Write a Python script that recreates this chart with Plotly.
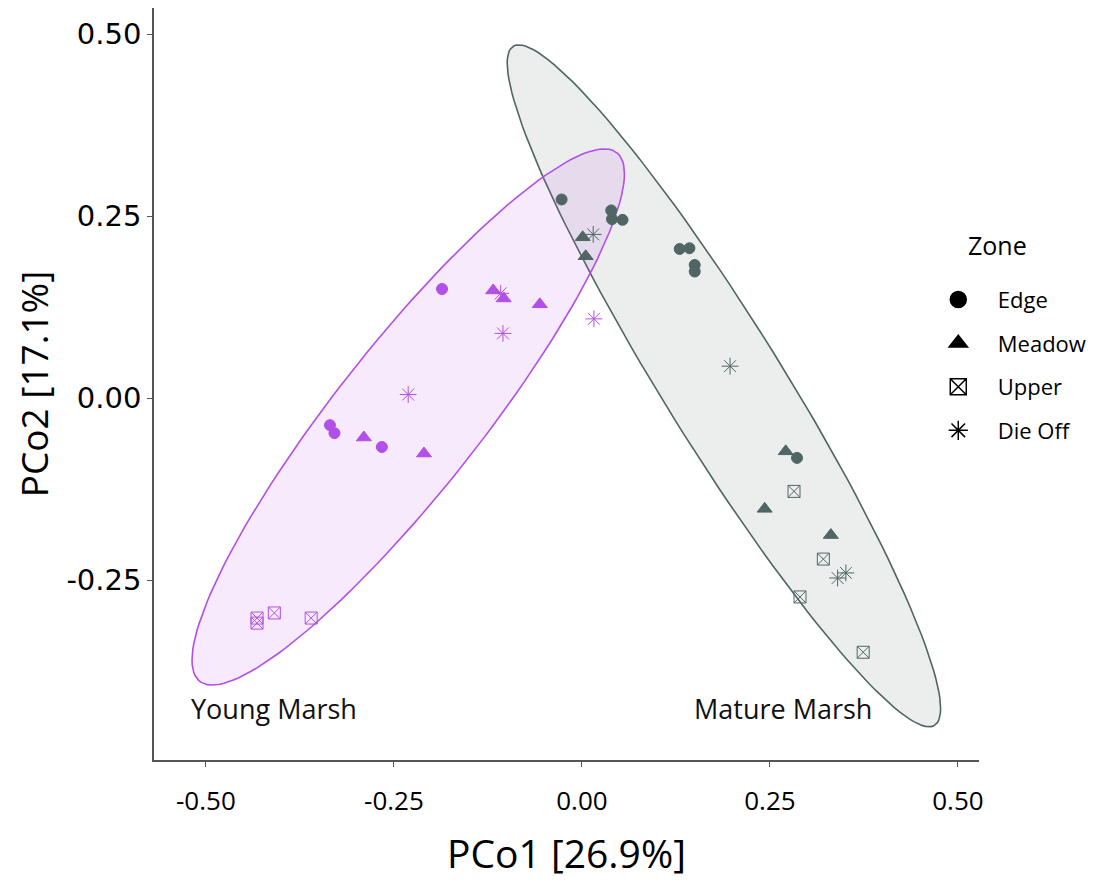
import numpy as np
import plotly.graph_objects as go

# ---------------- data ----------------
zones = ["Edge", "Meadow", "Upper", "Die Off"]

young_edge_x = [-0.186, -0.335, -0.329, -0.266]
young_edge_y = [0.150, -0.037, -0.048, -0.067]
young_meadow_x = [-0.118, -0.104, -0.056, -0.290, -0.210]
young_meadow_y = [0.148, 0.137, 0.129, -0.054, -0.076]
young_upper_x = [-0.432, -0.432, -0.409, -0.360]
young_upper_y = [-0.302, -0.309, -0.295, -0.302]
young_dieoff_x = [-0.108, -0.105, -0.231, 0.016]
young_dieoff_y = [0.144, 0.089, 0.005, 0.109]

mature_edge_x = [-0.027, 0.039, 0.040, 0.054, 0.130, 0.143, 0.150, 0.150, 0.286]
mature_edge_y = [0.273, 0.258, 0.246, 0.245, 0.205, 0.206, 0.183, 0.174, -0.082]
mature_meadow_x = [0.001, 0.005, 0.271, 0.243, 0.331]
mature_meadow_y = [0.221, 0.195, -0.073, -0.152, -0.188]
mature_upper_x = [0.282, 0.321, 0.290, 0.374]
mature_upper_y = [-0.128, -0.221, -0.273, -0.349]
mature_dieoff_x = [0.015, 0.197, 0.340, 0.351]
mature_dieoff_y = [0.225, 0.044, -0.247, -0.240]

x_ticks = [-0.50, -0.25, 0.00, 0.25, 0.50]
y_ticks = [-0.25, 0.00, 0.25, 0.50]

# ---------------- styles ----------------
YOUNG = "#B24FE6"
MATURE = "#506664"
symbols = {"Edge": "circle", "Meadow": "triangle-up", "Upper": "square-x-open", "Die Off": "asterisk-open"}
sizes = {"Edge": 11, "Meadow": 13, "Upper": 12, "Die Off": 14}
NARROW = "Liberation Sans Narrow, Open Sans, sans-serif"
ELLIPSE_LEVEL = 0.90


def cov_trob(pts, nu=5, tol=1e-5, maxit=200):
    x = np.asarray(pts, float)
    n, p = x.shape
    w = np.ones(n)
    loc = x.mean(axis=0)
    for _ in range(maxit):
        w0 = w.copy()
        X = x - loc
        S = (w[:, None] * X).T @ X / w.sum()
        Q = np.einsum("ij,jk,ik->i", X, np.linalg.inv(S), X)
        w = (nu + p) / (nu + Q)
        loc = (w[:, None] * x).sum(axis=0) / w.sum()
        if np.all(np.abs(w - w0) < tol):
            break
    X = x - loc
    cov = (w[:, None] * X).T @ X / n
    return loc, cov


def ellipse(xs, ys, level=ELLIPSE_LEVEL, seg=150):
    pts = np.column_stack([xs, ys])
    n = len(pts)
    center, shape = cov_trob(pts)
    dfn, dfd = 2, n - 1
    fq = dfd / 2.0 * ((1 - level) ** (-2.0 / dfd) - 1)
    radius = np.sqrt(dfn * fq)
    ang = np.linspace(0, 2 * np.pi, seg + 1)
    unit = np.column_stack([np.cos(ang), np.sin(ang)])
    R = np.linalg.cholesky(shape).T
    e = center + radius * unit @ R
    return e[:, 0], e[:, 1]


groups = {
    "young": {
        "Edge": (young_edge_x, young_edge_y),
        "Meadow": (young_meadow_x, young_meadow_y),
        "Upper": (young_upper_x, young_upper_y),
        "Die Off": (young_dieoff_x, young_dieoff_y),
    },
    "mature": {
        "Edge": (mature_edge_x, mature_edge_y),
        "Meadow": (mature_meadow_x, mature_meadow_y),
        "Upper": (mature_upper_x, mature_upper_y),
        "Die Off": (mature_dieoff_x, mature_dieoff_y),
    },
}
colors = {"young": YOUNG, "mature": MATURE}
fills = {"young": "rgba(178,79,230,0.12)", "mature": "rgba(80,102,100,0.11)"}

fig = go.Figure()

for g in ["mature", "young"]:
    allx = sum([list(v[0]) for v in groups[g].values()], [])
    ally = sum([list(v[1]) for v in groups[g].values()], [])
    ex, ey = ellipse(allx, ally)
    fig.add_trace(go.Scatter(x=ex, y=ey, mode="lines", fill="toself",
                             fillcolor=fills[g], line=dict(color=colors[g], width=1.6),
                             showlegend=False, hoverinfo="skip"))

for g in ["young", "mature"]:
    for z in zones:
        xs, ys = groups[g][z]
        fig.add_trace(go.Scatter(
            x=xs, y=ys, mode="markers", showlegend=False,
            marker=dict(symbol=symbols[z], size=sizes[z], color=colors[g],
                        line=dict(color=colors[g], width=1))))

# legend entries (black)
for z in zones:
    fig.add_trace(go.Scatter(
        x=[None], y=[None], mode="markers", name=z, legendgroup=z,
        marker=dict(symbol=symbols[z], size=16, color="black",
                    line=dict(color="black", width=1.5))))

fig.add_annotation(x=-0.41, y=-0.426, text="Young Marsh", showarrow=False,
                   font=dict(size=27, family=NARROW, color="#111"))
fig.add_annotation(x=0.267, y=-0.426, text="Mature Marsh", showarrow=False,
                   font=dict(size=27, family=NARROW, color="#111"))
fig.add_annotation(xref="paper", yref="paper", x=1.022, y=0.685, xanchor="center", yanchor="middle",
                   text="Zone", showarrow=False, font=dict(size=25, family="Open Sans, sans-serif", color="black"))

fig.update_layout(
    width=1091, height=874,
    plot_bgcolor="white", paper_bgcolor="white",
    margin=dict(l=146, r=120, t=0, b=122),
    font=dict(family=NARROW, color="black"),
    legend=dict(
        font=dict(size=22, family="Open Sans, sans-serif"),
        x=0.927, y=0.640, xanchor="left", yanchor="top",
        bgcolor="rgba(0,0,0,0)", tracegroupgap=12, itemsizing="trace", itemwidth=69,
    ),
    xaxis=dict(
        range=[-0.569, 0.528], tickvals=x_ticks, ticktext=[f"{v:.2f}" for v in x_ticks],
        showgrid=False, zeroline=False, showline=True, linecolor="#555", linewidth=1.5,
        ticks="outside", ticklen=5, tickcolor="#555", ticklabelstandoff=12,
        tickfont=dict(size=26, family=NARROW),
        title=dict(text="PCo1 [26.9%]", font=dict(size=39, family=NARROW), standoff=24),
    ),
    yaxis=dict(
        range=[-0.497, 0.536], tickvals=y_ticks, ticktext=[f"{v:.2f}" for v in y_ticks],
        showgrid=False, zeroline=False, showline=True, linecolor="#555", linewidth=1.5,
        ticks="outside", ticklen=5, tickcolor="#555", ticklabelstandoff=0,
        tickfont=dict(size=29, family="DejaVu Sans, Verdana, sans-serif"),
        title=dict(text="PCo2 [17.1%]", font=dict(size=37, family=NARROW), standoff=10),
    ),
)

fig.write_html("out.html")
